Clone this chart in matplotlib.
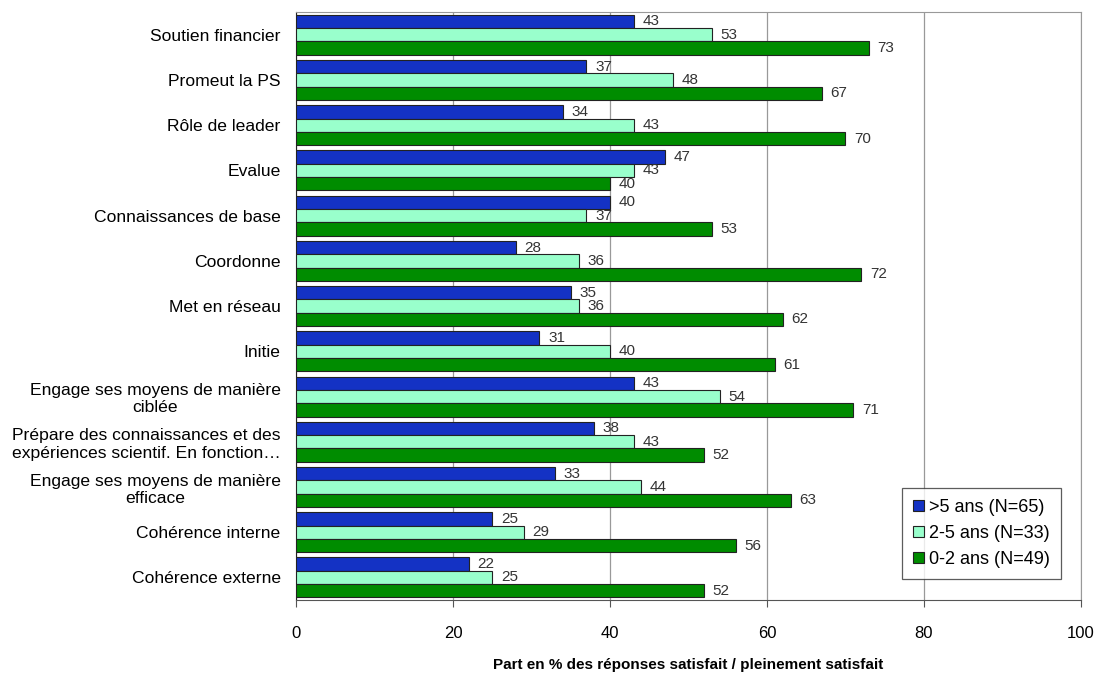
import numpy as np
import matplotlib
matplotlib.use("Agg")
from matplotlib import pyplot as plt

plt.rcParams['font.family'] = ['Liberation Sans', 'DejaVu Sans']

categories = ["Soutien financier", "Promeut la PS", "Rôle de leader", "Evalue",
              "Connaissances de base", "Coordonne", "Met en réseau", "Initie",
              "Engage ses moyens de manière\nciblée",
              "Prépare des connaissances et des\nexpériences scientif. En fonction…",
              "Engage ses moyens de manière\nefficace",
              "Cohérence interne", "Cohérence externe"]
plus5 = [43, 37, 34, 47, 40, 28, 35, 31, 43, 38, 33, 25, 22]
de2a5 = [53, 48, 43, 43, 37, 36, 36, 40, 54, 43, 44, 29, 25]
de0a2 = [73, 67, 70, 40, 53, 72, 62, 61, 71, 52, 63, 56, 52]
series_names = [">5 ans (N=65)", "2-5 ans (N=33)", "0-2 ans (N=49)"]
colors = ['#1432c4', '#99ffcc', '#008c00']

fig = plt.figure(figsize=(10.98, 6.75), dpi=100)
ax = fig.add_axes([0.2696, 0.111, 0.7149, 0.871])

y = np.arange(len(categories))
h = 0.295
for k, (vals, col, name) in enumerate(zip([plus5, de2a5, de0a2], colors, series_names)):
    pos = y + (k - 1) * h
    ax.barh(pos, vals, height=h, color=col, edgecolor='#222222', linewidth=0.8, label=name, zorder=3)
    for p, v in zip(pos, vals):
        ax.text(v + 1.1, p, str(v), va='center', ha='left', fontsize=11, color='#333333', zorder=4)

ax.set_xlim(0, 100)
ax.set_ylim(len(categories) - 0.5, -0.5)
ax.set_yticks(y)
ax.set_yticklabels(categories, fontsize=12.6, ha='right', multialignment='center',
                   linespacing=1.2)
ax.tick_params(axis='y', length=0, pad=11)
ax.set_xticks(range(0, 101, 20))
ax.tick_params(axis='x', labelsize=12, length=5, direction='out', pad=14, color='#555555')
ax.xaxis.grid(True, color='#999999', linewidth=0.9, zorder=0)
ax.set_axisbelow(True)
for s in ['top', 'right']:
    ax.spines[s].set_color('#999999')
ax.spines['left'].set_color('#222222')
ax.spines['bottom'].set_color('#555555')
ax.set_xlabel("Part en % des réponses satisfait / pleinement satisfait", fontsize=11,
              fontweight='bold', labelpad=12)

leg = ax.legend(loc='lower right', bbox_to_anchor=(0.9745, 0.036), fontsize=13, frameon=True,
                fancybox=False, edgecolor='#333333', handlelength=0.6, handleheight=0.6,
                handletextpad=0.3, borderpad=0.6, labelspacing=0.5, borderaxespad=0)
leg.get_frame().set_linewidth(0.9)

fig.savefig("out.png", dpi=100)
